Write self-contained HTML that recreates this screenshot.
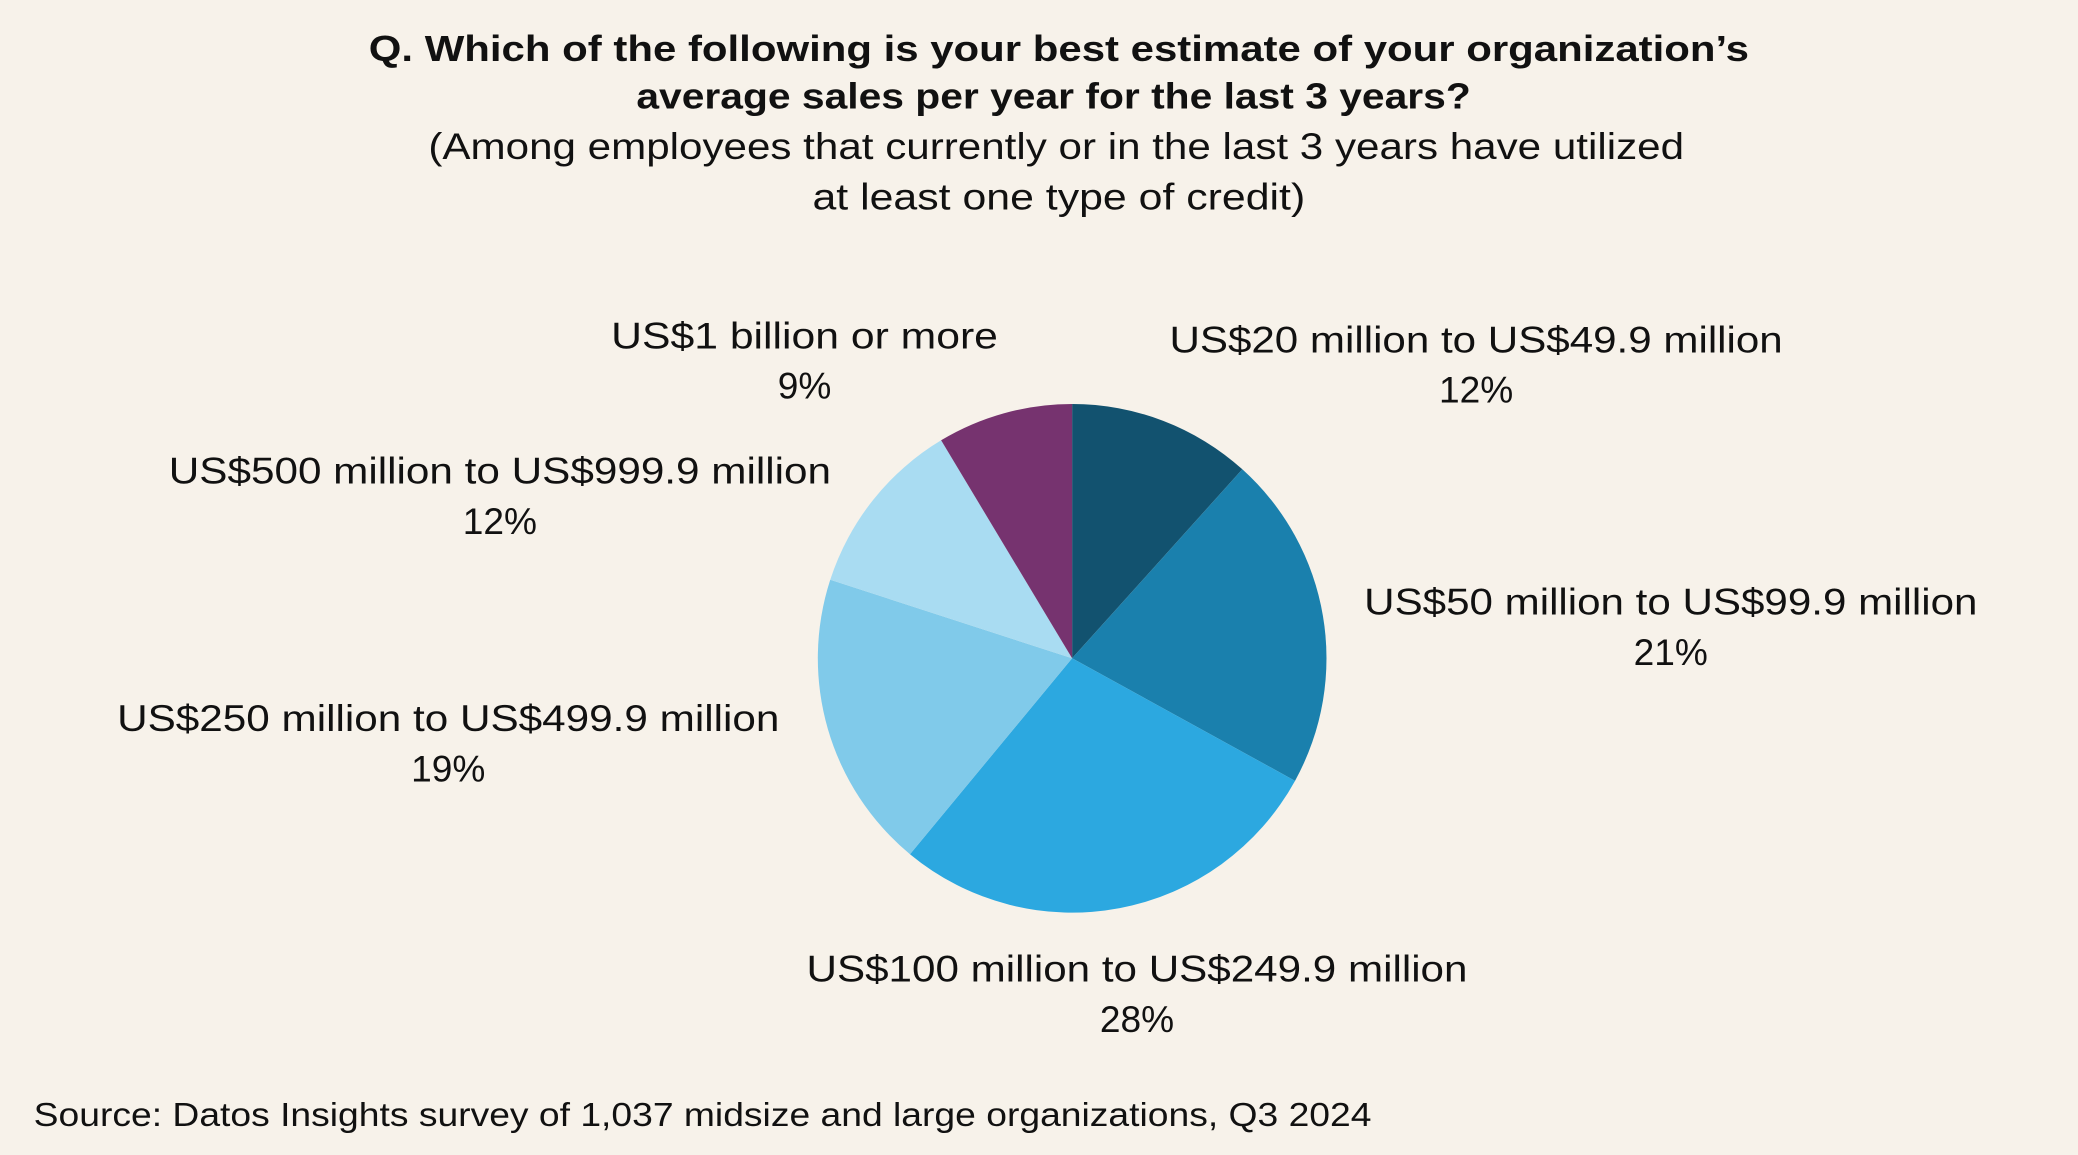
<!DOCTYPE html>
<html><head><meta charset="utf-8"><style>
html,body{margin:0;padding:0;background:#f7f2ea;}
svg{display:block;}
text{font-family:"Liberation Sans",sans-serif;fill:#111;}
</style></head><body>
<svg width="2078" height="1155" viewBox="0 0 1568 872" xmlns="http://www.w3.org/2000/svg">
<rect width="1568" height="872" fill="#f7f2ea"/>
<text x="799" y="46" font-size="27" font-weight="bold" text-anchor="middle" textLength="1042" lengthAdjust="spacingAndGlyphs">Q. Which of the following is your best estimate of your organization’s</text>
<text x="795" y="82" font-size="27" font-weight="bold" text-anchor="middle" textLength="630" lengthAdjust="spacingAndGlyphs">average sales per year for the last 3 years?</text>
<text x="797" y="120" font-size="28" text-anchor="middle" textLength="948" lengthAdjust="spacingAndGlyphs">(Among employees that currently or in the last 3 years have utilized</text>
<text x="799" y="158" font-size="28" text-anchor="middle" textLength="372" lengthAdjust="spacingAndGlyphs">at least one type of credit)</text>

<g stroke="none">
<path d="M809,497 L809,305 A192,192 0 0 1 937.5,354.3 Z" fill="#12526f"/>
<path d="M809,497 L937.5,354.3 A192,192 0 0 1 977.3,589.5 Z" fill="#1a80ad"/>
<path d="M809,497 L977.3,589.5 A192,192 0 0 1 686.6,644.9 Z" fill="#2ca8e0"/>
<path d="M809,497 L686.6,644.9 A192,192 0 0 1 626.4,437.7 Z" fill="#80caea"/>
<path d="M809,497 L626.4,437.7 A192,192 0 0 1 710.1,332.4 Z" fill="#a9dcf2"/>
<path d="M809,497 L710.1,332.4 A192,192 0 0 1 809,305 Z" fill="#76336f"/>
</g>

<g font-size="28" text-anchor="middle">
<text x="607" y="263" textLength="292" lengthAdjust="spacingAndGlyphs">US$1 billion or more</text>
<text x="607" y="301">9%</text>
<text x="1114" y="266" textLength="463" lengthAdjust="spacingAndGlyphs">US$20 million to US$49.9 million</text>
<text x="1114" y="304">12%</text>
<text x="377" y="365" textLength="500" lengthAdjust="spacingAndGlyphs">US$500 million to US$999.9 million</text>
<text x="377" y="403">12%</text>
<text x="1261" y="464" textLength="463" lengthAdjust="spacingAndGlyphs">US$50 million to US$99.9 million</text>
<text x="1261" y="502">21%</text>
<text x="338" y="552" textLength="500" lengthAdjust="spacingAndGlyphs">US$250 million to US$499.9 million</text>
<text x="338" y="590">19%</text>
<text x="858" y="741" textLength="499" lengthAdjust="spacingAndGlyphs">US$100 million to US$249.9 million</text>
<text x="858" y="779">28%</text>
</g>
<text x="25" y="850" font-size="25" textLength="1010" lengthAdjust="spacingAndGlyphs">Source: Datos Insights survey of 1,037 midsize and large organizations, Q3 2024</text>
</svg>
</body></html>
